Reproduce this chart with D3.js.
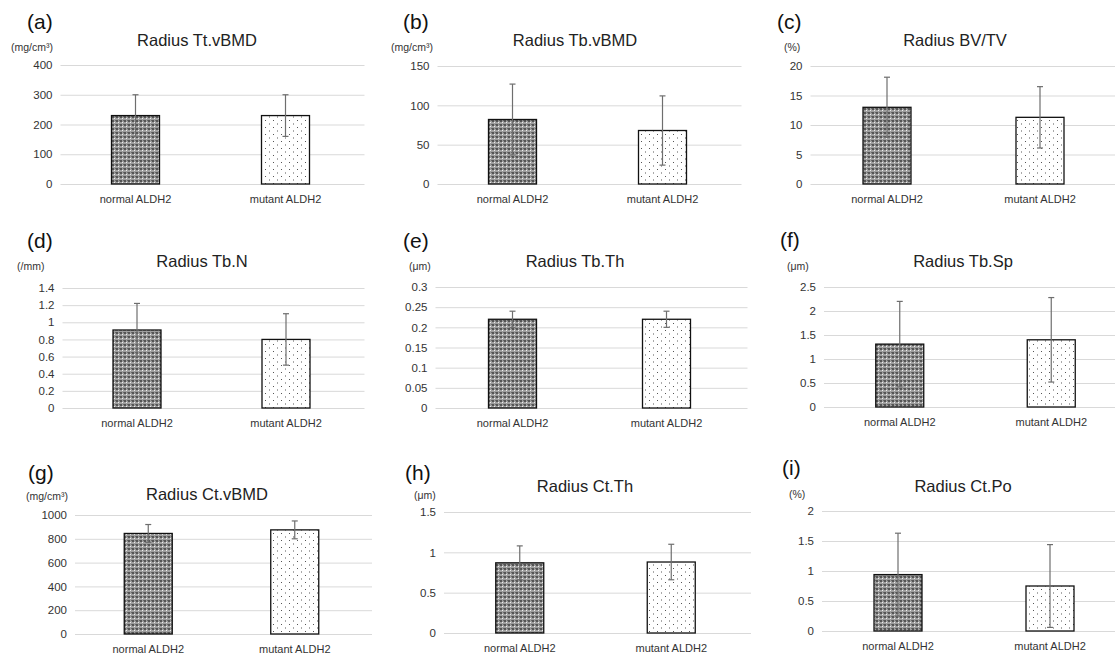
<!DOCTYPE html>
<html>
<head>
<meta charset="utf-8">
<script src="https://cdn.jsdelivr.net/npm/d3@7"></script>
<style>
  body { margin: 0; background: #fff; }
  svg { font-family: "Liberation Sans", Arial, sans-serif; display: block; }
</style>
</head>
<body>
<svg id="chart" width="1115" height="654"></svg>
<script>
// data
const groups = ["normal ALDH2", "mutant ALDH2"];
const letters = ["(a)", "(b)", "(c)", "(d)", "(e)", "(f)", "(g)", "(h)", "(i)"];
const titles = ["Radius Tt.vBMD", "Radius Tb.vBMD", "Radius BV/TV", "Radius Tb.N", "Radius Tb.Th",
                "Radius Tb.Sp", "Radius Ct.vBMD", "Radius Ct.Th", "Radius Ct.Po"];
const units = ["(mg/cm³)", "(mg/cm³)", "(%)", "(/mm)", "(μm)", "(μm)", "(mg/cm³)", "(μm)", "(%)"];
const normalMean = [230, 82, 13, 0.91, 0.22, 1.31, 845, 0.87, 0.94];
const normalSD   = [70, 45, 5.1, 0.31, 0.02, 0.89, 75, 0.21, 0.69];
const mutantMean = [230, 68, 11.3, 0.80, 0.22, 1.40, 875, 0.88, 0.75];
const mutantSD   = [70, 44, 5.2, 0.30, 0.02, 0.88, 75, 0.22, 0.69];
const yMax  = [400, 150, 20, 1.4, 0.3, 2.5, 1000, 1.5, 2];
const yStep = [100, 50, 5, 0.2, 0.05, 0.5, 200, 0.5, 0.5];

// layout of each small chart (pixels)
const layout = [
  {lx: 27, ly: 29, ux: 11, uy: 51, tx: 197, ty: 46, left: 60.5, w: 300, top: 65, bottom: 184},
  {lx: 403, ly: 29, ux: 391, uy: 51, tx: 575, ty: 46, left: 437.5, w: 300, top: 66, bottom: 184},
  {lx: 777, ly: 29, ux: 784, uy: 51, tx: 955, ty: 46, left: 810.5, w: 306, top: 66, bottom: 184},
  {lx: 27, ly: 248, ux: 17, uy: 270, tx: 202, ty: 267, left: 62.5, w: 298, top: 288, bottom: 408},
  {lx: 403, ly: 248, ux: 409, uy: 270, tx: 575, ty: 267, left: 435.5, w: 308, top: 287, bottom: 408},
  {lx: 780, ly: 247, ux: 787, uy: 270, tx: 963, ty: 267, left: 824, w: 303, top: 287, bottom: 407},
  {lx: 28, ly: 480, ux: 26, uy: 500, tx: 207, ty: 500, left: 75, w: 293, top: 515, bottom: 634},
  {lx: 405, ly: 480, ux: 414, uy: 499, tx: 585, ty: 492, left: 444, w: 303, top: 512, bottom: 633},
  {lx: 782, ly: 475, ux: 789, uy: 498, tx: 963, ty: 492, left: 822, w: 304, top: 511, bottom: 631}
];

const svg = d3.select("#chart");
svg.append("rect").attr("width", 1115).attr("height", 654).attr("fill", "#fff");

// fill patterns like the Excel ones
const defs = svg.append("defs");
const pDark = defs.append("pattern").attr("id", "pat-normal")
  .attr("patternUnits", "userSpaceOnUse").attr("width", 4).attr("height", 4);
pDark.append("rect").attr("width", 4).attr("height", 4).attr("fill", "#9e9e9e");
pDark.append("rect").attr("width", 2).attr("height", 2).attr("fill", "#555");
pDark.append("rect").attr("x", 2).attr("y", 2).attr("width", 1).attr("height", 1).attr("fill", "#eee");
pDark.append("rect").attr("x", 3).attr("y", 0).attr("width", 1).attr("height", 1).attr("fill", "#6a6a6a");

const pLight = defs.append("pattern").attr("id", "pat-mutant")
  .attr("patternUnits", "userSpaceOnUse").attr("width", 8).attr("height", 7);
pLight.append("rect").attr("width", 8).attr("height", 7).attr("fill", "#fff");
pLight.append("rect").attr("x", 1).attr("y", 1).attr("width", 1).attr("height", 1).attr("fill", "#555");
pLight.append("rect").attr("x", 5).attr("y", 4.5).attr("width", 1).attr("height", 1).attr("fill", "#555");

const fills = ["url(#pat-normal)", "url(#pat-mutant)"];

layout.forEach((L, i) => {
  const g = svg.append("g");

  const x = d3.scaleBand().domain(groups).range([L.left, L.left + L.w]);
  const y = d3.scaleLinear().domain([0, yMax[i]]).range([L.bottom, L.top]);

  const n = Math.round(yMax[i] / yStep[i]);
  const ticks = d3.range(0, n + 1).map(k => +(k * yStep[i]).toFixed(4));

  // y axis with gridlines
  const ya = g.append("g")
    .attr("transform", `translate(${L.left},0)`)
    .call(d3.axisLeft(y).tickValues(ticks).tickSize(-(L.w + 4)).tickPadding(8).tickFormat(d => String(d)));
  ya.select(".domain").remove();
  ya.selectAll("line").attr("stroke", "#d9d9d9").attr("stroke-width", 1);
  ya.selectAll("text").attr("font-size", 11.5).attr("fill", "#333")
    .attr("font-family", "'Liberation Sans', Arial, sans-serif");

  // x axis labels
  const xa = g.append("g")
    .attr("transform", `translate(0,${L.bottom})`)
    .call(d3.axisBottom(x).tickSize(0).tickPadding(11));
  xa.select(".domain").remove();
  xa.selectAll("text").attr("font-size", 11).attr("fill", "#333")
    .attr("font-family", "'Liberation Sans', Arial, sans-serif");

  const means = [normalMean[i], mutantMean[i]];
  const sds = [normalSD[i], mutantSD[i]];
  const bw = 48;

  // bars
  g.selectAll("rect.bar").data(groups).enter().append("rect")
    .attr("class", "bar")
    .attr("x", d => x(d) + x.bandwidth() / 2 - bw / 2)
    .attr("y", (d, j) => y(means[j]))
    .attr("width", bw)
    .attr("height", (d, j) => L.bottom - y(means[j]))
    .attr("fill", (d, j) => fills[j])
    .attr("stroke", "#111")
    .attr("stroke-width", 1.3);

  // error bars
  groups.forEach((d, j) => {
    const cx = x(d) + x.bandwidth() / 2;
    const y1 = y(means[j] + sds[j]), y2 = y(means[j] - sds[j]);
    g.append("line").attr("x1", cx).attr("x2", cx).attr("y1", y1).attr("y2", y2)
      .attr("stroke", "#6e6e6e").attr("stroke-width", 1.2);
    [y1, y2].forEach(yy => {
      g.append("line").attr("x1", cx - 3).attr("x2", cx + 3).attr("y1", yy).attr("y2", yy)
        .attr("stroke", "#6e6e6e").attr("stroke-width", 1.2);
    });
  });

  // title, panel letter, unit
  g.append("text").attr("x", L.tx).attr("y", L.ty).attr("text-anchor", "middle")
    .attr("font-size", 16.5).attr("fill", "#222").text(titles[i]);
  g.append("text").attr("x", L.lx).attr("y", L.ly)
    .attr("font-size", 21).attr("fill", "#111").text(letters[i]);
  g.append("text").attr("x", L.ux).attr("y", L.uy)
    .attr("font-size", 10.5).attr("fill", "#333").text(units[i]);
});
</script>
</body>
</html>
